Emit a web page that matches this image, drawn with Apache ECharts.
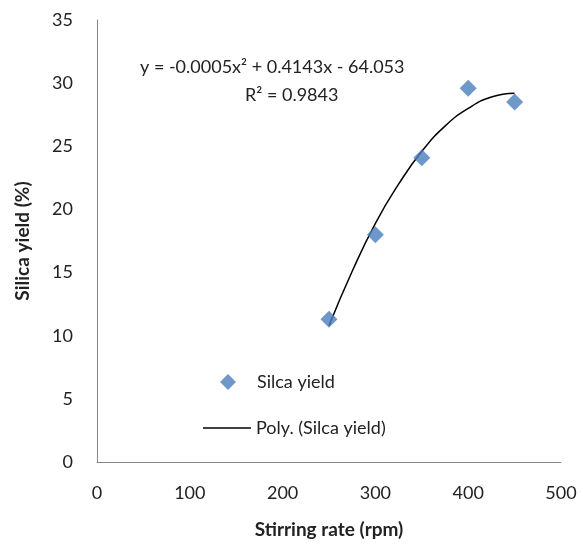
<!DOCTYPE html>
<html>
<head>
<meta charset="utf-8">
<script src="https://cdn.jsdelivr.net/npm/echarts@6/dist/echarts.min.js"></script>
<style>
  html, body { margin: 0; padding: 0; background: #fff; }
  #chart { width: 583px; height: 544px; }
</style>
</head>
<body>
<div id="chart"></div>
<script>
// measured points
var rate = [250, 300, 350, 400, 450]
var silica = [11.3, 18.0, 24.1, 29.6, 28.5]
// trendline
var trendRate = [250, 275, 300, 325, 350, 375, 400, 425, 450]
var trendYield = [10.8, 15.1, 18.9, 22.0, 24.6, 26.6, 28.0, 28.9, 29.2]

var font = 'Lato, "Open Sans", sans-serif'
var axisColor = '#868686'
var legendText = { fontFamily: font, fontSize: 18, color: '#222' }

var chart = echarts.init(document.getElementById('chart'))
chart.setOption({
  animation: false,
  grid: { left: 97, right: 22, top: 20, bottom: 81 },
  legend: [
    {
      left: 215,
      top: 368,
      itemWidth: 16,
      itemHeight: 16,
      textStyle: Object.assign({ padding: [0, 0, 0, 16] }, legendText),
      data: [{ name: 'Silca yield', icon: 'diamond' }]
    },
    {
      left: 198,
      top: 414,
      itemWidth: 48,
      itemHeight: 16,
      textStyle: legendText,
      data: [{ name: 'Poly. (Silca yield)', icon: 'path://M0,0 H48 V1.5 H0 Z' }]
    }
  ],
  xAxis: {
    type: 'value',
    min: 0, max: 500, interval: 100,
    name: 'Stirring rate (rpm)',
    nameLocation: 'middle',
    nameGap: 58,
    nameTextStyle: { fontFamily: font, fontSize: 19, fontWeight: 'bold', color: '#222' },
    axisLine: { show: true, lineStyle: { color: axisColor } },
    axisTick: { show: false },
    splitLine: { show: false },
    axisLabel: { margin: 22, fontFamily: font, fontSize: 18, color: '#222' }
  },
  yAxis: {
    type: 'value',
    min: 0, max: 35, interval: 5,
    name: 'Silica yield (%)',
    nameLocation: 'middle',
    nameGap: 65,
    nameTextStyle: { fontFamily: font, fontSize: 19, fontWeight: 'bold', color: '#222' },
    axisLine: { show: true, lineStyle: { color: axisColor } },
    axisTick: { show: false },
    splitLine: { show: false },
    axisLabel: { margin: 24, fontFamily: font, fontSize: 18, color: '#222' }
  },
  graphic: [
    {
      type: 'text', left: 140, top: 58,
      style: { text: 'y = -0.0005x² + 0.4143x - 64.053', font: '18px ' + font, fill: '#222' }
    },
    {
      type: 'text', left: 245, top: 86,
      style: { text: 'R² = 0.9843', font: '18px ' + font, fill: '#222' }
    }
  ],
  series: [
    {
      name: 'Poly. (Silca yield)',
      type: 'line',
      smooth: true,
      showSymbol: false,
      lineStyle: { color: '#000', width: 1.5 },
      itemStyle: { color: '#000' },
      data: trendRate.map(function (x, i) { return [x, trendYield[i]] })
    },
    {
      name: 'Silca yield',
      type: 'scatter',
      symbol: 'diamond',
      symbolSize: 17,
      itemStyle: { color: '#4a7ebb' },
      z: 3,
      data: rate.map(function (x, i) { return [x, silica[i]] })
    }
  ]
})
</script>
</body>
</html>
